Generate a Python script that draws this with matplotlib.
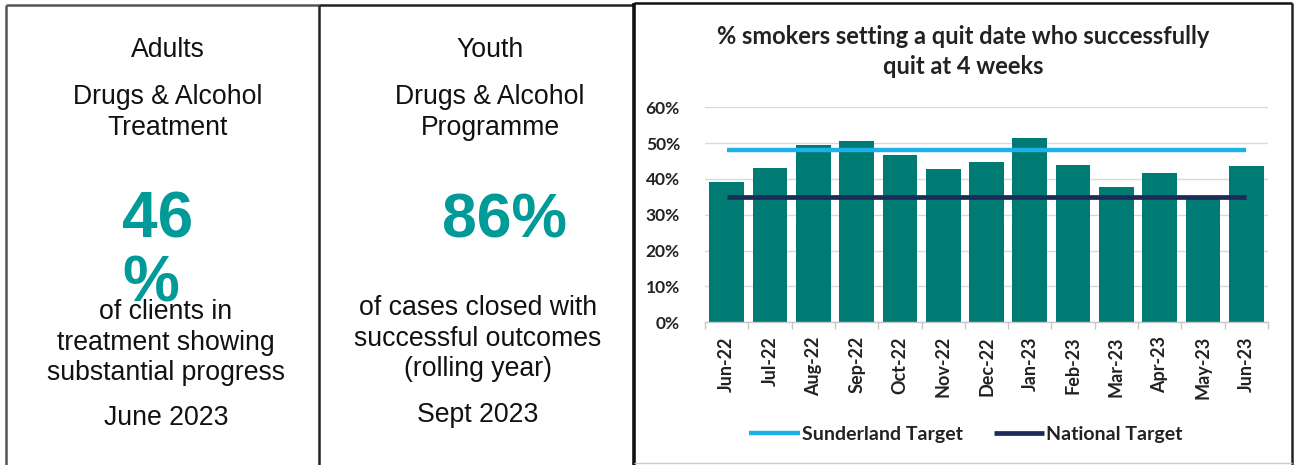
import matplotlib
matplotlib.use("Agg")
import matplotlib.pyplot as plt
from matplotlib.lines import Line2D
import numpy as np

# ---------------- data ----------------
months = ["Jun-22", "Jul-22", "Aug-22", "Sep-22", "Oct-22", "Nov-22", "Dec-22",
          "Jan-23", "Feb-23", "Mar-23", "Apr-23", "May-23", "Jun-23"]
quit_rate = [39.1, 43.1, 49.4, 50.5, 46.8, 42.8, 44.8, 51.5, 44.0, 37.7, 41.7, 35.0, 43.7]
sunderland_target = [48.0] * len(months)
national_target = [35.0] * len(months)
y_ticks = [0, 10, 20, 30, 40, 50, 60]

adults_value = "46"
youth_value = "86%"

W, H = 1295, 465
fig = plt.figure(figsize=(W / 100, H / 100), dpi=100)
fig.patch.set_facecolor("white")

def fx(px):
    return px / W

def fy(py):
    return 1 - py / H

# ---------------- panel borders ----------------
def fline(x0, y0, x1, y1, color, lw):
    fig.add_artist(Line2D([fx(x0), fx(x1)], [fy(y0), fy(y1)], color=color, lw=lw,
                          transform=fig.transFigure, solid_capstyle="butt"))

fline(6, 5, 319, 5, "#555555", 1.8)
fline(319, 5, 634, 5, "#222222", 1.8)
fline(6, 5, 6, 465, "#555555", 1.8)
fline(319, 5, 319, 465, "#222222", 1.8)
fline(634, 3, 634, 465, "#111111", 2.6)
fline(634, 3.5, 1292, 3.5, "#111111", 1.8)
fline(1292, 3, 1292, 465, "#222222", 1.8)
fline(634, 463, 1292, 463, "#cccccc", 1.0)

# ---------------- text panels ----------------
txt_font = ["Liberation Sans", "DejaVu Sans"]
teal = "#009A98"
tsize = 19.2

def ptext(x, y, s, size=tsize, color="#111111", weight="normal", ha="center"):
    fig.text(fx(x), fy(y), s, ha=ha, va="center", fontsize=size, color=color,
             fontweight=weight, family=txt_font)

# Adults panel
ptext(168, 50, "Adults")
ptext(168, 97, "Drugs & Alcohol")
ptext(168, 128, "Treatment")
ptext(122, 220, adults_value, size=46, color=teal, weight="bold", ha="left")
ptext(122, 284, "%", size=46, color=teal, weight="bold", ha="left")
ptext(166, 312, "of clients in")
ptext(166, 343, "treatment showing")
ptext(166, 373, "substantial progress")
ptext(166, 418, "June 2023")

# Youth panel
ptext(490, 50, "Youth")
ptext(490, 97, "Drugs & Alcohol")
ptext(490, 128, "Programme")
ptext(504, 221, youth_value, size=45, color=teal, weight="bold")
ptext(478, 308, "of cases closed with")
ptext(478, 339, "successful outcomes")
ptext(478, 369, "(rolling year)")
ptext(478, 415, "Sept 2023")

# ---------------- chart ----------------
cfont = ["Lato", "DejaVu Sans"]
ax = fig.add_axes([fx(705), fy(322.3), fx(1268) - fx(705), fy(107.3) - fy(322.3)])
x = np.arange(len(months))
ax.bar(x, quit_rate, width=0.8, color="#007B73", zorder=2)
ax.plot(x, sunderland_target, color="#1DB1E8", lw=3.2, zorder=3, label="Sunderland Target",
        solid_capstyle="butt")
ax.plot(x, national_target, color="#1C2B58", lw=3.4, zorder=3, label="National Target",
        solid_capstyle="butt")

ax.set_xlim(-0.5, len(months) - 0.5)
ax.set_ylim(0, 60)
ax.set_yticks(y_ticks)
ax.set_yticklabels([f"{v}%" for v in y_ticks], fontsize=12.5, fontweight="bold",
                   family=cfont, color="#222222")
ax.yaxis.grid(True, color="#d9d9d9", lw=1.0, zorder=0)
ax.set_axisbelow(True)
ax.tick_params(axis="y", length=0, pad=18)

ax.set_xticks(x)
ax.set_xticklabels(months, rotation=90, fontsize=13, fontweight="bold", family=cfont,
                   color="#222222")
ax.tick_params(axis="x", which="major", length=0, pad=10)
ax.set_xticks(np.arange(-0.5, len(months), 1.0), minor=True)
ax.tick_params(axis="x", which="minor", length=5, color="#c8c8c8", width=1)

for s in ["top", "right", "left"]:
    ax.spines[s].set_visible(False)
ax.spines["bottom"].set_color("#c8c8c8")
ax.spines["bottom"].set_linewidth(1.0)

fig.text(fx(963.5), fy(37), "% smokers setting a quit date who successfully", ha="center",
         va="center", fontsize=17, fontweight="bold", family=cfont, color="#222222")
fig.text(fx(963.5), fy(66), "quit at 4 weeks", ha="center", va="center", fontsize=17,
         fontweight="bold", family=cfont, color="#222222")

leg = fig.legend(loc="center", bbox_to_anchor=(fx(966), fy(434)), ncol=2, frameon=False,
                 prop={"family": cfont, "weight": "bold", "size": 14},
                 handlelength=2.6, handletextpad=0.1, columnspacing=1.6)
for t in leg.get_texts():
    t.set_color("#222222")

fig.savefig("out.png", dpi=100, facecolor="white")
